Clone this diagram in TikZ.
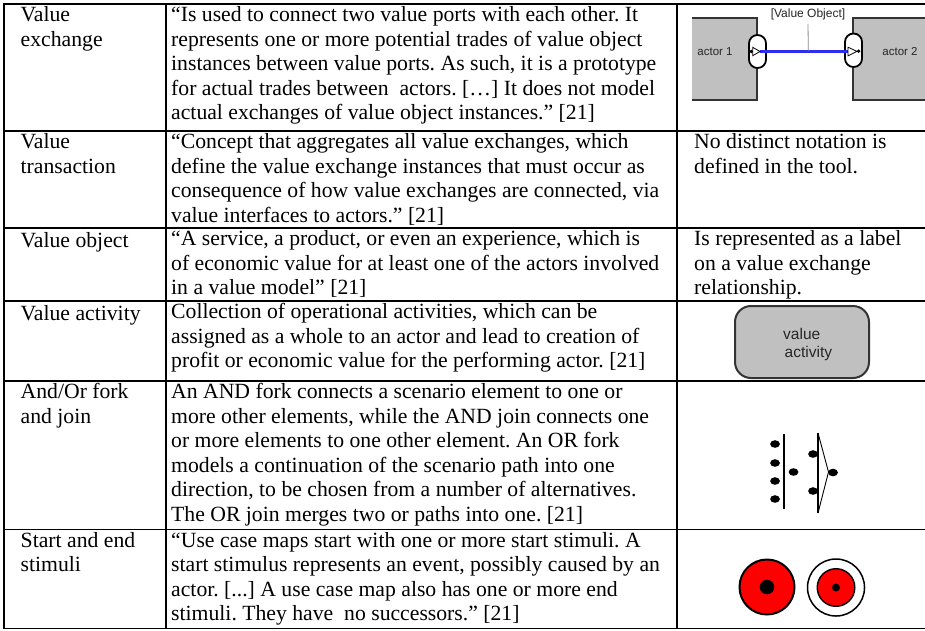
\documentclass[tikz,border=0pt]{standalone}
\usepackage{fontspec}
\setmainfont{Liberation Serif}
\newfontfamily\iconfont{Liberation Sans}
\newcommand\celltext{\fontsize{21.7}{24.5}\selectfont\frenchspacing}
\definecolor{actgray}{HTML}{C0C0C0}
\definecolor{actedge}{HTML}{333333}
\definecolor{vblue}{HTML}{2E2EF0}
\tikzset{
  grid/.style={line width=1.8pt, black},
  cell/.style={anchor=north west, inner sep=0pt, align=left, font=\celltext, execute at begin node=\strut},
  actorlbl/.style={inner sep=0pt, font=\iconfont\fontsize{11.5}{13}\selectfont, text=black!85},
  actline/.style={line width=2pt, actedge},
  portshape/.style={line width=1.8pt, black, fill=white, rounded corners=8.4pt},
  tri/.style={line width=0.8pt, black, fill=white},
  valueline/.style={line width=3pt, vblue},
  leader/.style={line width=0.8pt, black!45},
  actbox/.style={line width=2pt, actedge, fill=actgray, rounded corners=16pt},
  dotmark/.style={fill=black},
  barline/.style={line width=1.4pt, black},
}
\begin{document}
\begin{tikzpicture}[x=1pt,y=-1pt]
\useasboundingbox[fill=white] (0,0) rectangle (925,630);

% ---- table grid ----
\foreach \yy in {4,131,228,301,381,529.5,628.5}
  \draw[grid] (3.1,\yy) -- (925,\yy);
\draw[grid] (4,3.1) -- (4,629.4);
\draw[grid] (166,3.1) -- (166,629.4);
\draw[grid] (677,3.1) -- (677,629.4);

% ---- first column ----
\node[cell] (h1) at (20.5,6.5) {Value\\exchange};
\node[cell] (h2) at (20.5,133.5) {Value\\transaction};
\node[cell] (h3) at (20.5,230.5) {Value object};
\node[cell] (h4) at (20.5,303.5) {Value activity};
\node[cell] (h5) at (20.5,383.5) {And/Or fork\\and join};
\node[cell] (h6) at (20.5,532) {Start and end\\stimuli};

% ---- second column ----
\node[cell] (d1) at (171,6.5) {“Is used to connect two value ports with each other. It\\
represents one or more potential trades of value object\\
instances between value ports. As such, it is a prototype\\
for actual trades between\ \ actors. […] It does not model\\
actual exchanges of value object instances.” [21]};
\node[cell] (d2) at (171,133.5) {“Concept that aggregates all value exchanges, which\\
define the value exchange instances that must occur as\\
consequence of how value exchanges are connected, via\\
value interfaces to actors.” [21]};
\node[cell] (d3) at (171,230.5) {“A service, a product, or even an experience, which is\\
of economic value for at least one of the actors involved\\
in a value model” [21]};
\node[cell] (d4) at (171,303.5) {Collection of operational activities, which can be\\
assigned as a whole to an actor and lead to creation of\\
profit or economic value for the performing actor. [21]};
\node[cell] (d5) at (171,383.5) {An AND fork connects a scenario element to one or\\
more other elements, while the AND join connects one\\
or more elements to one other element. An OR fork\\
models a continuation of the scenario path into one\\
direction, to be chosen from a number of alternatives.\\
The OR join merges two or paths into one. [21]};
\node[cell] (d6) at (171,532) {“Use case maps start with one or more start stimuli. A\\
start stimulus represents an event, possibly caused by an\\
actor. [...] A use case map also has one or more end\\
stimuli. They have\ \ no successors.” [21]};

% ---- third column texts ----
\node[cell] (n2) at (694,133.5) {No distinct notation is\\defined in the tool.};
\node[cell] (n3) at (694,230.5) {Is represented as a label\\on a value exchange\\relationship.};

% ---- value exchange icon ----
\fill[actgray] (692,18) rectangle (757,100);
\draw[actline] (692,18) -- (757,18) -- (757,100) -- (692,100);
\fill[actgray] (853,18) rectangle (925,100);
\draw[actline] (925,18) -- (853,18) -- (853,100) -- (925,100);
\node[actorlbl] (a1) at (715,52) {actor 1};
\node[actorlbl] (a2) at (900,52) {actor 2};
\draw[portshape] (749,35) rectangle (766,68);
\draw[portshape] (845,33.5) rectangle (862,67);
\coordinate (p1) at (760,51.5);
\coordinate (p2) at (848,51.5);
\draw[valueline] (p1) -- (p2);
\draw[tri] (752.7,47.3) -- (p1) -- (752.7,55.7) -- cycle;
\fill[dotmark] (751.3,51.5) circle (1.9);
\draw[tri] (p2) ++(0,-4.3) -- (857,51.4) -- (848,55.8) -- cycle;
\fill[dotmark] (858.6,51.2) circle (1.9);
\node[actorlbl, font=\iconfont\fontsize{12}{14}\selectfont] (vo) at (808,14.5) {[Value Object]};
\coordinate (vl) at (808.3,50.5);
\draw[leader] (vo.south) ++(0,3.5) -- (vl);

% ---- value activity icon ----
\draw[actbox] (735,306) rectangle (869,378);
\node[inner sep=0pt, align=left, anchor=north west, font=\iconfont\fontsize{15.5}{18}\selectfont, text=black!85] (va) at (783,328) {value\\\hspace*{1.5pt}activity};

% ---- and/or fork and join icon ----
\foreach \yy in {444,463,481,499}
  \fill[dotmark] (775,\yy) ellipse [x radius=4.9, y radius=3.8];
\draw[barline] (784,434) -- (784,509);
\fill[dotmark] (793.5,472) ellipse [x radius=4.9, y radius=3.8];
\fill[dotmark] (813,454) ellipse [x radius=4.9, y radius=3.8];
\fill[dotmark] (813,491) ellipse [x radius=4.9, y radius=3.8];
\draw[barline] (818,433) -- (818,513);
\draw[line width=0.9pt] (818,433) -- (828.5,472) -- (818,513);
\fill[dotmark] (833,472.5) ellipse [x radius=4.9, y radius=3.8];

% ---- start and end stimuli icon ----
\draw[line width=2pt, black, fill=red] (767,587) circle (27.5);
\fill[dotmark] (767,587) circle (7.3);
\draw[line width=1.5pt, black, fill=white] (836,587.5) circle (28.5);
\draw[line width=1.4pt, black, fill=red] (836,587.5) circle (18.8);
\fill[dotmark] (836,587.5) circle (4);
\end{tikzpicture}
\end{document}
